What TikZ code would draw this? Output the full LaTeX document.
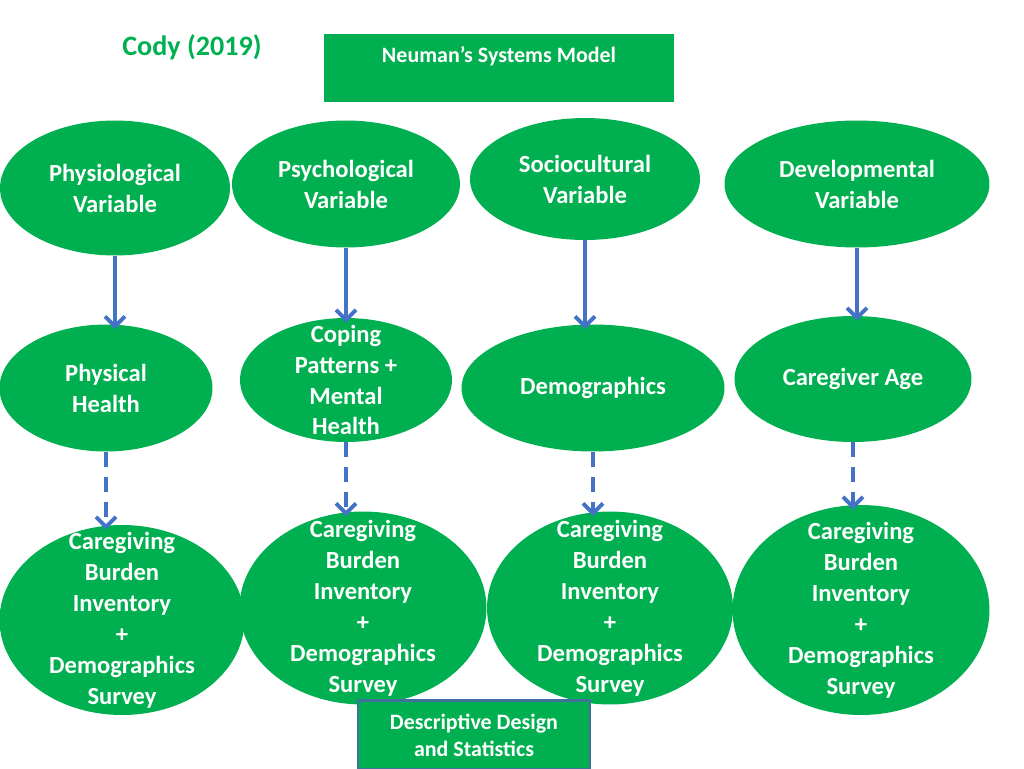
\documentclass[tikz,border=0pt]{standalone}
\usepackage{fontspec}
\setmainfont{Carlito}
\usetikzlibrary{arrows.meta,shapes.geometric}
\definecolor{nm_green}{RGB}{0, 176, 80}
\definecolor{nm_blue}{RGB}{68, 114, 196}
\definecolor{nm_edge}{RGB}{65, 113, 156}
\tikzstyle{ov}=[ellipse,fill=nm_green,draw=none,inner sep=-1cm,text=white,
  align=center,font=\bfseries\fontsize{14}{17.6}\selectfont]
\tikzstyle{bx}=[rectangle,fill=nm_green,inner sep=0pt,text=white,
  align=center,font=\bfseries\fontsize{12.5}{15.3}\selectfont]
\tikzstyle{solidarr}=[draw=nm_blue,line width=2.2pt,
  -{Straight Barb[length=0.2cm,width=0.4cm]},shorten >=-0.1cm]
\tikzstyle{dasharr}=[solidarr,dash pattern=on 0.3cm off 0.2cm]
\tikzstyle{none}=[]

\begin{document}
\begin{tikzpicture}[x=0.02cm,y=-0.02cm]
    \useasboundingbox (0, 0) rectangle (1024, 768);
            \node [style=none,text=nm_green,font=\bfseries\fontsize{16}{19}\selectfont] (cody) at (192, 47) {Cody (2019)};
            \node [style=bx,minimum width=7cm,text height=0.56cm,text depth=0.8cm] (nsm) at (499, 68) {Neuman’s Systems Model};
            % variables
            \node [style=ov,minimum width=4.6cm,minimum height=2.7cm] (phys) at (115, 188) {Physiological\\Variable};
            \node [style=ov,minimum width=4.56cm,minimum height=2.54cm] (psych) at (346, 184) {Psychological\\Variable};
            \node [style=ov,minimum width=4.6cm,minimum height=2.44cm] (socio) at (585, 179) {Sociocultural\\Variable};
            \node [style=ov,minimum width=5.3cm,minimum height=2.54cm] (devel) at (857, 184) {Developmental\\Variable};
            % concepts
            \node [style=ov,minimum width=4.26cm,minimum height=2.54cm] (physh) at (106, 388) {Physical\\Health};
            \node [style=ov,minimum width=4.24cm,minimum height=2.48cm] (coping) at (346, 380) {Coping\\Patterns +\\Mental\\Health};
            \node [style=ov,minimum width=5.26cm,minimum height=2.54cm] (demog) at (593, 388) {Demographics};
            \node [style=ov,minimum width=4.74cm,minimum height=2.52cm] (cgage) at (853, 379) {Caregiver Age};
            % instruments
            \node [style=ov,minimum width=4.9cm,minimum height=3.8cm] (cbi1) at (122, 620) {Caregiving\\Burden\\Inventory\\+\\Demographics\\Survey};
            \node [style=ov,minimum width=4.94cm,minimum height=3.86cm] (cbi2) at (363, 608) {Caregiving\\Burden\\Inventory\\+\\Demographics\\Survey};
            \node [style=ov,minimum width=4.92cm,minimum height=3.86cm] (cbi3) at (610, 608) {Caregiving\\Burden\\Inventory\\+\\Demographics\\Survey};
            \node [style=ov,minimum width=5.14cm,minimum height=4.2cm] (cbi4) at (861, 610) {Caregiving\\Burden\\Inventory\\+\\Demographics\\Survey};
            \node [style=bx,draw=nm_edge,line width=1.2pt,minimum width=4.64cm,minimum height=1.38cm] (desc) at (474, 735) {Descriptive Design\\and Statistics};
            \draw [style=solidarr] (phys.south) to (phys.south |- physh.north);
            \draw [style=solidarr] (psych.south) to (psych.south |- coping.north);
            \draw [style=solidarr] (socio.south) to (socio.south |- demog.north);
            \draw [style=solidarr] (devel.south) to (devel.south |- cgage.north);
            \draw [style=dasharr] (physh.south) to (physh.south |- cbi1.north);
            \draw [style=dasharr] (coping.south) to (coping.south |- cbi2.north);
            \draw [style=dasharr] (demog.south) to (demog.south |- cbi3.north);
            \draw [style=dasharr] (cgage.south) to (cgage.south |- cbi4.north);
    \end{tikzpicture}
\end{document}
